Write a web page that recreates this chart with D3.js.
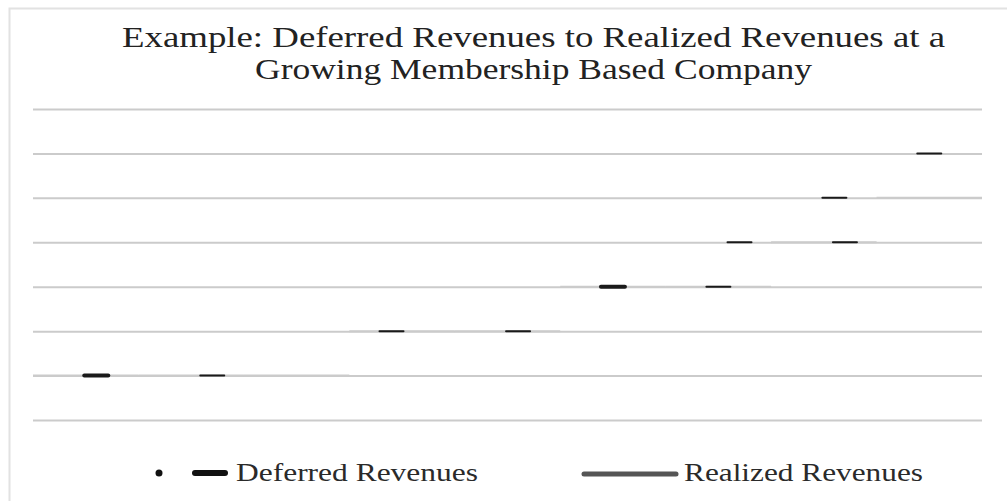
<!DOCTYPE html>
<html>
<head>
<meta charset="utf-8">
<script src="https://cdn.jsdelivr.net/npm/d3@7"></script>
<style>
  body { margin: 0; background: #fff; }
  text { font-family: "Liberation Serif", "Times New Roman", serif; }
</style>
</head>
<body>
<svg id="chart" width="1007" height="501"></svg>
<script>
// values (y in arbitrary units, x in quarters)
const titleLines = ["Example: Deferred Revenues to Realized Revenues at a", "Growing Membership Based Company"];
const yTicks = [0, 10, 20, 30, 40, 50, 60, 70];

// deferred revenues: visible dash marks
const deferredQuarter = [0.6, 1.7, 3.4, 4.6, 5.5, 6.5, 6.7, 7.7, 7.6, 8.5];
const deferredValue   = [10, 10, 20, 20, 30, 30, 40, 40, 50, 60];

// realized revenues: step levels per quarter (sits on the grid)
const realizedQuarter = [0, 1, 2, 3, 4, 5, 6, 7, 8];
const realizedValue   = [10, 10, 10, 20, 20, 30, 30, 40, 50];

const legendNames = ["Deferred Revenues", "Realized Revenues"];

const svg = d3.select('#chart');

// frame
svg.append('path')
  .attr('d', 'M9.5,501 V8.5 H1007')
  .attr('fill', 'none')
  .attr('stroke', '#e2e2e2')
  .attr('stroke-width', 2);

const x = d3.scaleLinear().domain([0, 9]).range([33, 982]);
const y = d3.scaleLinear().domain([0, 70]).range([420, 109]);

// title
svg.selectAll('.title')
  .data(titleLines)
  .enter()
  .append('text')
  .attr('class', 'title')
  .attr('x', (d, i) => i === 0 ? 122 : 255)
  .attr('y', (d, i) => 47 + i * 32)
  .attr('textLength', (d, i) => i === 0 ? 823 : 557)
  .attr('lengthAdjust', 'spacingAndGlyphs')
  .attr('font-size', 30)
  .attr('fill', '#222')
  .text(d => d);

// gridlines via axis
const yAxis = d3.axisLeft(y)
  .tickValues(yTicks)
  .tickSize(-(x.range()[1] - x.range()[0]))
  .tickFormat('');

const gy = svg.append('g')
  .attr('transform', `translate(${x.range()[0]},0)`)
  .call(yAxis);
gy.select('.domain').remove();
gy.selectAll('.tick line')
  .attr('stroke', '#cbcbcb')
  .attr('stroke-width', 2);

// realized revenues (horizontal steps, same tone as grid)
const realized = realizedQuarter.map((q, i) => ({q: q, v: realizedValue[i]}));
svg.append('g')
  .selectAll('line')
  .data(realized)
  .enter()
  .append('line')
  .attr('x1', d => x(d.q))
  .attr('x2', d => x(d.q + 1))
  .attr('y1', d => y(d.v))
  .attr('y2', d => y(d.v))
  .attr('stroke', '#cbcbcb')
  .attr('stroke-width', 2);

// deferred revenues dash marks
const deferred = deferredQuarter.map((q, i) => ({q: q, v: deferredValue[i]}));
svg.append('g')
  .selectAll('line')
  .data(deferred)
  .enter()
  .append('line')
  .attr('x1', d => x(d.q) - 12)
  .attr('x2', d => x(d.q) + 12)
  .attr('y1', d => y(d.v))
  .attr('y2', d => y(d.v))
  .attr('stroke', '#1a1a1a')
  .attr('stroke-width', (d, i) => i === 0 || i === 4 ? 4 : 2)
  .attr('stroke-linecap', 'round');

// legend
const lg = svg.append('g');
lg.append('circle')
  .attr('cx', 159).attr('cy', 473).attr('r', 3.5)
  .attr('fill', '#111');
lg.append('line')
  .attr('x1', 195).attr('x2', 225).attr('y1', 473).attr('y2', 473)
  .attr('stroke', '#111').attr('stroke-width', 6).attr('stroke-linecap', 'round');
lg.append('text')
  .attr('x', 236).attr('y', 481)
  .attr('font-size', 25)
  .attr('textLength', 242)
  .attr('lengthAdjust', 'spacingAndGlyphs')
  .attr('fill', '#2a2a2a')
  .text(legendNames[0]);

lg.append('line')
  .attr('x1', 584).attr('x2', 676).attr('y1', 474).attr('y2', 474)
  .attr('stroke', '#555').attr('stroke-width', 5).attr('stroke-linecap', 'round');
lg.append('text')
  .attr('x', 684).attr('y', 481)
  .attr('font-size', 25)
  .attr('textLength', 239)
  .attr('lengthAdjust', 'spacingAndGlyphs')
  .attr('fill', '#2a2a2a')
  .text(legendNames[1]);
</script>
</body>
</html>
